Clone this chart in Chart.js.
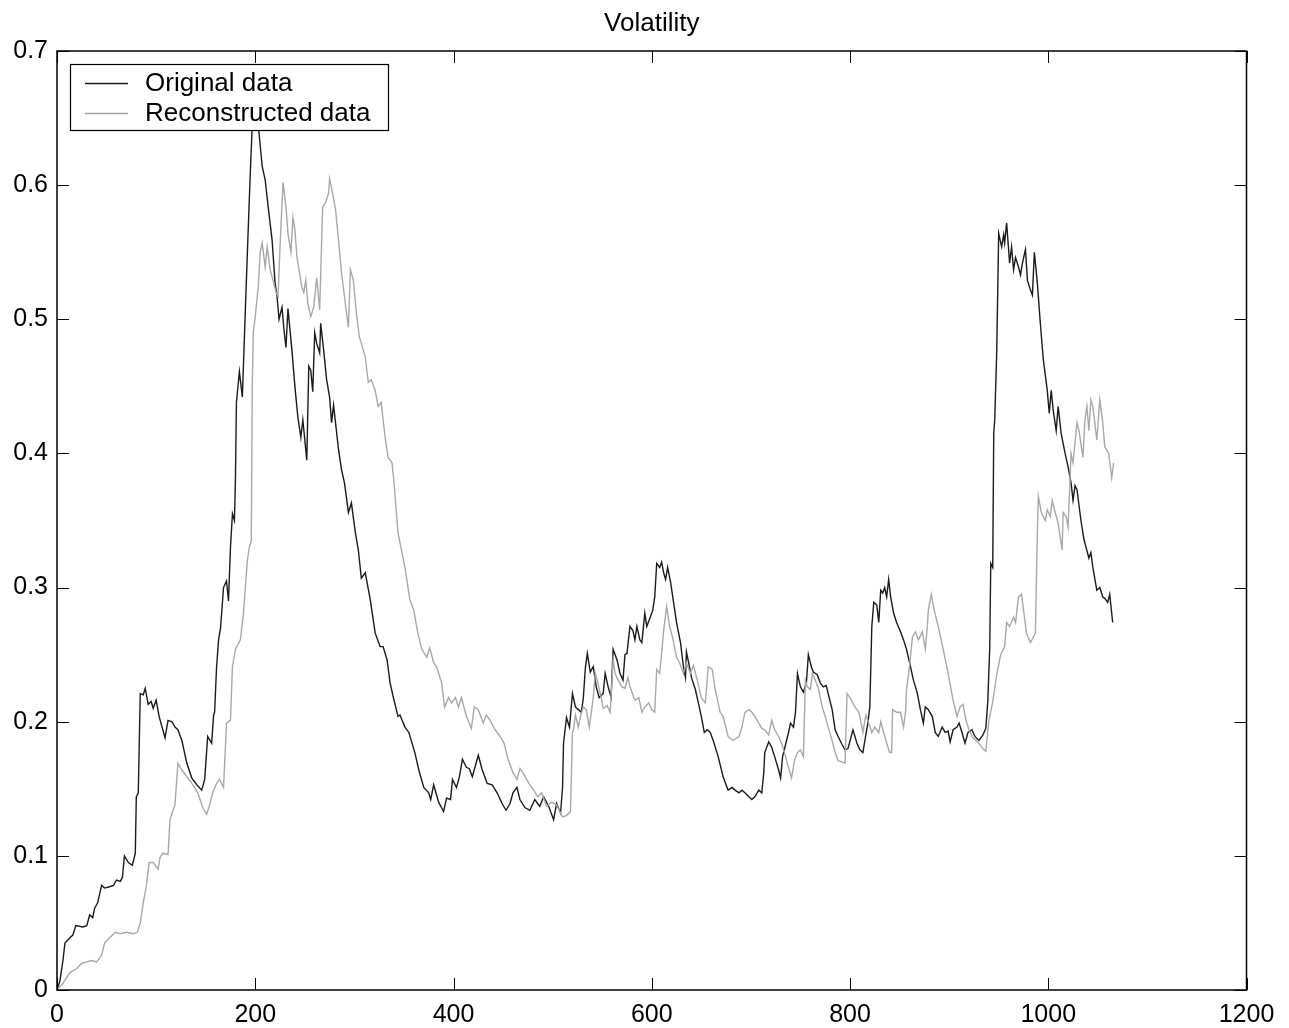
<!DOCTYPE html>
<html>
<head>
<meta charset="utf-8">
<title>Volatility</title>
<script src="https://cdn.jsdelivr.net/npm/chart.js@4.4.1/dist/chart.umd.min.js"></script>
<style>
  html, body { margin: 0; padding: 0; background: #fff; }
  #wrap { width: 1289px; height: 1028px; }
</style>
</head>
<body>
<div id="wrap"><canvas id="chart" width="1289" height="1028"></canvas></div>
<script>
// series names
const seriesNames = ['Original data', 'Reconstructed data'];

// axis ticks
const xTicks = [0, 200, 400, 600, 800, 1000, 1200];
const yTicks = [0, 0.1, 0.2, 0.3, 0.4, 0.5, 0.6, 0.7];

// Original data (sample index / value)
const origX = [0, 3, 6, 8, 13, 16, 19, 26, 30, 33, 36, 38, 41, 45, 48, 53, 57, 60, 64, 66, 68, 72, 76, 79, 80, 82, 84, 87, 89, 92, 95, 97, 100, 103, 109, 112, 116, 119, 122, 126, 131, 136, 141, 146, 149, 152, 156, 158, 159, 161, 163, 165, 168, 171, 173, 175, 177, 179, 180, 181, 184, 187, 190, 193, 195, 197, 199, 201, 203, 207, 210, 213, 217, 220, 222, 224, 227, 229, 231, 233, 237, 240, 243, 246, 248, 252, 254, 256, 258, 260, 262, 265, 266, 269, 272, 275, 277, 279, 284, 287, 290, 294, 297, 301, 304, 307, 311, 316, 321, 326, 329, 333, 336, 340, 344, 346, 351, 355, 361, 365, 370, 375, 377, 380, 385, 390, 393, 397, 399, 403, 406, 409, 413, 416, 419, 425, 429, 434, 439, 444, 449, 453, 457, 460, 464, 467, 472, 477, 482, 487, 491, 496, 501, 504, 508, 510, 511, 514, 517, 520, 523, 526, 529, 531, 533, 535, 538, 541, 544, 547, 551, 553, 556, 559, 561, 565, 568, 571, 573, 575, 578, 581, 583, 585, 588, 590, 593, 595, 598, 601, 603, 605, 608, 610, 612, 614, 616, 619, 622, 625, 629, 632, 634, 635, 638, 640, 644, 647, 650, 653, 656, 659, 662, 667, 672, 677, 681, 684, 688, 691, 694, 698, 701, 704, 708, 711, 713, 714, 718, 721, 724, 728, 730, 732, 735, 738, 740, 743, 745, 747, 750, 753, 756, 758, 761, 763, 767, 770, 773, 776, 778, 782, 785, 788, 792, 795, 798, 803, 807, 810, 813, 815, 818, 820, 822, 824, 827, 829, 831, 833, 835, 837, 839, 841, 844, 847, 851, 854, 857, 861, 864, 868, 871, 874, 876, 879, 883, 886, 889, 893, 896, 899, 901, 904, 908, 910, 913, 916, 919, 923, 926, 930, 934, 937, 939, 941, 942, 944, 945, 946, 948, 950, 953, 955, 956, 958, 961, 963, 965, 967, 970, 972, 974, 977, 979, 982, 984, 986, 989, 992, 995, 999, 1001, 1003, 1005, 1008, 1010, 1013, 1017, 1020, 1023, 1025, 1027, 1029, 1033, 1036, 1041, 1043, 1045, 1049, 1052, 1055, 1057, 1060, 1062, 1065];
const origY = [0.000, 0.007, 0.022, 0.035, 0.039, 0.041, 0.048, 0.047, 0.048, 0.056, 0.054, 0.061, 0.065, 0.078, 0.076, 0.077, 0.078, 0.082, 0.081, 0.084, 0.100, 0.095, 0.093, 0.102, 0.144, 0.147, 0.221, 0.220, 0.225, 0.213, 0.215, 0.210, 0.216, 0.204, 0.188, 0.201, 0.200, 0.196, 0.194, 0.186, 0.169, 0.158, 0.153, 0.149, 0.157, 0.189, 0.184, 0.205, 0.207, 0.241, 0.261, 0.270, 0.300, 0.305, 0.290, 0.330, 0.355, 0.350, 0.380, 0.438, 0.461, 0.442, 0.507, 0.569, 0.609, 0.645, 0.675, 0.670, 0.645, 0.614, 0.604, 0.584, 0.559, 0.527, 0.517, 0.500, 0.509, 0.492, 0.479, 0.508, 0.477, 0.450, 0.427, 0.412, 0.425, 0.395, 0.465, 0.462, 0.446, 0.490, 0.482, 0.475, 0.497, 0.477, 0.455, 0.442, 0.423, 0.436, 0.403, 0.388, 0.378, 0.356, 0.363, 0.341, 0.328, 0.307, 0.311, 0.291, 0.266, 0.256, 0.256, 0.246, 0.229, 0.216, 0.204, 0.205, 0.196, 0.192, 0.177, 0.164, 0.151, 0.147, 0.142, 0.153, 0.140, 0.133, 0.143, 0.142, 0.157, 0.151, 0.159, 0.172, 0.166, 0.165, 0.159, 0.175, 0.164, 0.154, 0.153, 0.147, 0.139, 0.134, 0.139, 0.147, 0.151, 0.142, 0.136, 0.134, 0.142, 0.137, 0.144, 0.137, 0.127, 0.139, 0.132, 0.151, 0.184, 0.203, 0.196, 0.221, 0.211, 0.209, 0.207, 0.218, 0.240, 0.251, 0.237, 0.241, 0.226, 0.218, 0.221, 0.236, 0.226, 0.218, 0.254, 0.246, 0.236, 0.231, 0.250, 0.251, 0.271, 0.268, 0.261, 0.271, 0.261, 0.259, 0.281, 0.271, 0.277, 0.283, 0.293, 0.318, 0.315, 0.319, 0.311, 0.306, 0.315, 0.304, 0.289, 0.274, 0.259, 0.241, 0.233, 0.252, 0.241, 0.233, 0.224, 0.214, 0.204, 0.192, 0.194, 0.192, 0.186, 0.174, 0.159, 0.149, 0.151, 0.149, 0.147, 0.149, 0.147, 0.144, 0.142, 0.144, 0.149, 0.147, 0.162, 0.177, 0.185, 0.181, 0.174, 0.164, 0.158, 0.174, 0.183, 0.192, 0.199, 0.196, 0.207, 0.236, 0.226, 0.222, 0.229, 0.250, 0.241, 0.237, 0.235, 0.229, 0.226, 0.227, 0.221, 0.209, 0.194, 0.189, 0.183, 0.179, 0.180, 0.194, 0.184, 0.179, 0.177, 0.186, 0.199, 0.211, 0.271, 0.289, 0.287, 0.274, 0.298, 0.296, 0.300, 0.293, 0.306, 0.293, 0.281, 0.274, 0.267, 0.261, 0.254, 0.241, 0.231, 0.221, 0.209, 0.199, 0.211, 0.209, 0.204, 0.192, 0.189, 0.196, 0.192, 0.193, 0.185, 0.194, 0.196, 0.199, 0.192, 0.184, 0.192, 0.194, 0.189, 0.186, 0.190, 0.195, 0.215, 0.256, 0.318, 0.315, 0.415, 0.425, 0.475, 0.564, 0.554, 0.563, 0.557, 0.572, 0.542, 0.554, 0.537, 0.546, 0.539, 0.533, 0.542, 0.552, 0.529, 0.522, 0.518, 0.550, 0.527, 0.497, 0.470, 0.447, 0.430, 0.447, 0.432, 0.417, 0.435, 0.415, 0.400, 0.390, 0.378, 0.365, 0.376, 0.373, 0.350, 0.336, 0.322, 0.326, 0.315, 0.298, 0.300, 0.293, 0.292, 0.289, 0.295, 0.274];

// Reconstructed data
const reconX = [0, 6, 13, 20, 25, 30, 35, 40, 45, 48, 53, 59, 64, 70, 77, 81, 84, 87, 90, 93, 97, 102, 104, 107, 112, 114, 117, 119, 122, 126, 131, 136, 142, 147, 151, 154, 157, 161, 164, 168, 171, 175, 177, 180, 185, 188, 190, 192, 194, 196, 197, 198, 200, 203, 205, 207, 210, 212, 215, 218, 221, 223, 225, 228, 231, 233, 236, 238, 240, 242, 247, 249, 251, 253, 256, 259, 262, 265, 268, 271, 274, 275, 278, 281, 284, 287, 290, 292, 294, 296, 299, 302, 305, 309, 311, 314, 317, 321, 324, 327, 331, 334, 338, 340, 344, 351, 356, 360, 364, 368, 373, 376, 380, 383, 388, 391, 395, 398, 402, 405, 408, 413, 418, 421, 425, 430, 433, 437, 442, 447, 451, 455, 460, 464, 467, 470, 476, 481, 485, 489, 494, 499, 504, 510, 514, 518, 520, 521, 523, 526, 528, 531, 534, 537, 539, 541, 543, 545, 549, 551, 555, 558, 561, 563, 566, 570, 573, 576, 578, 583, 587, 590, 593, 597, 600, 603, 605, 608, 610, 612, 615, 618, 621, 625, 628, 632, 635, 639, 642, 646, 650, 654, 657, 661, 664, 669, 672, 677, 682, 688, 691, 694, 698, 701, 704, 708, 711, 714, 718, 721, 724, 728, 731, 735, 738, 741, 744, 747, 750, 753, 755, 757, 760, 762, 765, 768, 772, 775, 778, 782, 785, 788, 792, 795, 797, 800, 805, 809, 812, 813, 816, 819, 822, 825, 829, 831, 834, 837, 840, 842, 843, 847, 851, 854, 856, 857, 860, 863, 866, 869, 873, 876, 878, 879, 882, 885, 889, 894, 899, 904, 908, 911, 914, 917, 920, 924, 930, 934, 937, 940, 944, 948, 952, 956, 958, 961, 965, 967, 970, 973, 976, 978, 982, 985, 987, 989, 990, 993, 997, 999, 1002, 1004, 1007, 1010, 1012, 1014, 1015, 1018, 1020, 1023, 1025, 1027, 1029, 1031, 1035, 1037, 1039, 1041, 1043, 1045, 1049, 1052, 1055, 1057, 1061, 1064, 1066];
const reconY = [0, 0.005, 0.013, 0.016, 0.020, 0.021, 0.022, 0.021, 0.026, 0.035, 0.039, 0.043, 0.042, 0.043, 0.042, 0.043, 0.050, 0.065, 0.077, 0.095, 0.095, 0.090, 0.099, 0.102, 0.101, 0.127, 0.134, 0.138, 0.169, 0.164, 0.159, 0.154, 0.147, 0.136, 0.131, 0.138, 0.147, 0.154, 0.157, 0.151, 0.199, 0.201, 0.241, 0.254, 0.261, 0.280, 0.300, 0.320, 0.330, 0.335, 0.450, 0.490, 0.502, 0.524, 0.550, 0.557, 0.539, 0.554, 0.537, 0.529, 0.520, 0.517, 0.554, 0.602, 0.584, 0.564, 0.550, 0.576, 0.567, 0.547, 0.524, 0.520, 0.529, 0.512, 0.502, 0.509, 0.531, 0.507, 0.584, 0.587, 0.594, 0.605, 0.594, 0.582, 0.559, 0.535, 0.517, 0.505, 0.494, 0.537, 0.529, 0.505, 0.487, 0.477, 0.472, 0.453, 0.455, 0.447, 0.435, 0.438, 0.412, 0.397, 0.393, 0.378, 0.341, 0.315, 0.291, 0.283, 0.266, 0.254, 0.248, 0.255, 0.244, 0.241, 0.229, 0.211, 0.218, 0.214, 0.218, 0.211, 0.218, 0.204, 0.195, 0.211, 0.209, 0.199, 0.205, 0.201, 0.194, 0.189, 0.184, 0.172, 0.162, 0.157, 0.165, 0.162, 0.154, 0.149, 0.144, 0.147, 0.137, 0.140, 0.138, 0.129, 0.130, 0.133, 0.192, 0.194, 0.205, 0.196, 0.204, 0.211, 0.209, 0.196, 0.207, 0.218, 0.236, 0.231, 0.218, 0.210, 0.212, 0.207, 0.246, 0.236, 0.231, 0.226, 0.225, 0.233, 0.226, 0.216, 0.218, 0.207, 0.211, 0.214, 0.209, 0.207, 0.239, 0.236, 0.251, 0.268, 0.286, 0.271, 0.263, 0.248, 0.244, 0.236, 0.244, 0.236, 0.242, 0.231, 0.218, 0.214, 0.241, 0.239, 0.224, 0.207, 0.204, 0.189, 0.186, 0.189, 0.196, 0.207, 0.209, 0.207, 0.204, 0.199, 0.195, 0.194, 0.190, 0.201, 0.194, 0.189, 0.184, 0.174, 0.166, 0.158, 0.171, 0.177, 0.179, 0.174, 0.231, 0.226, 0.224, 0.236, 0.231, 0.225, 0.211, 0.204, 0.196, 0.186, 0.177, 0.171, 0.170, 0.169, 0.221, 0.218, 0.211, 0.207, 0.196, 0.192, 0.205, 0.199, 0.192, 0.196, 0.192, 0.200, 0.192, 0.184, 0.177, 0.177, 0.209, 0.207, 0.207, 0.196, 0.207, 0.224, 0.241, 0.263, 0.267, 0.261, 0.267, 0.254, 0.271, 0.283, 0.295, 0.283, 0.271, 0.254, 0.236, 0.216, 0.204, 0.211, 0.213, 0.201, 0.194, 0.188, 0.184, 0.180, 0.178, 0.200, 0.215, 0.235, 0.250, 0.256, 0.274, 0.271, 0.278, 0.274, 0.293, 0.295, 0.278, 0.266, 0.259, 0.263, 0.266, 0.341, 0.368, 0.356, 0.350, 0.358, 0.353, 0.365, 0.356, 0.348, 0.338, 0.328, 0.356, 0.353, 0.345, 0.400, 0.393, 0.408, 0.423, 0.417, 0.397, 0.425, 0.435, 0.417, 0.440, 0.435, 0.410, 0.440, 0.423, 0.405, 0.400, 0.382, 0.393];

const FONT = '"Liberation Sans", Arial, Helvetica, sans-serif';
const lineColors = ['#1a1a1a', '#a8a8a8'];

function toPoints(xs, ys) {
    return xs.map(function (x, i) { return { x: x, y: ys[i] }; });
}

// frame, inward ticks, title and legend, MATLAB style
const matlabDecor = {
    id: 'matlabDecor',
    afterDraw: function (chart) {
        const ctx = chart.ctx;
        const a = chart.chartArea;
        const xs = chart.scales.x;
        const ys = chart.scales.y;
        const tl = 12;
        ctx.save();
        ctx.strokeStyle = '#000';
        ctx.lineWidth = 1;
        ctx.beginPath();
        yTicks.forEach(function (v) {
            const p = Math.round(ys.getPixelForValue(v)) + 0.5;
            ctx.moveTo(a.left, p); ctx.lineTo(a.left + tl, p);
            ctx.moveTo(a.right, p); ctx.lineTo(a.right - tl, p);
        });
        xTicks.forEach(function (v) {
            const p = Math.round(xs.getPixelForValue(v)) + 0.5;
            ctx.moveTo(p, a.bottom); ctx.lineTo(p, a.bottom - tl);
            ctx.moveTo(p, a.top); ctx.lineTo(p, a.top + tl);
        });
        ctx.stroke();
        ctx.lineWidth = 1.5;
        ctx.strokeRect(a.left, a.top, a.right - a.left, a.bottom - a.top);

        // title
        ctx.fillStyle = '#000';
        ctx.font = '26px ' + FONT;
        ctx.textAlign = 'center';
        ctx.textBaseline = 'alphabetic';
        ctx.fillText('Volatility', (a.left + a.right) / 2, 31);

        // legend
        const bx = 70, by = 64, bw = 318, bh = 66;
        ctx.fillStyle = '#fff';
        ctx.fillRect(bx, by, bw, bh);
        ctx.lineWidth = 1.2;
        ctx.strokeStyle = '#000';
        ctx.strokeRect(bx + 0.5, by + 0.5, bw, bh);
        const rows = [83, 113];
        ctx.font = '26px ' + FONT;
        ctx.textAlign = 'left';
        ctx.textBaseline = 'middle';
        seriesNames.forEach(function (name, i) {
            ctx.strokeStyle = lineColors[i];
            ctx.lineWidth = 1.3;
            ctx.beginPath();
            ctx.moveTo(85, rows[i] + 0.5);
            ctx.lineTo(128, rows[i] + 0.5);
            ctx.stroke();
            ctx.fillStyle = '#000';
            ctx.fillText(name, 145, rows[i] + 1);
        });
        ctx.restore();
    }
};

const chart = new Chart(document.getElementById('chart'), {
    type: 'line',
    data: {
        datasets: [{
            label: seriesNames[0],
            data: toPoints(origX, origY),
            borderColor: lineColors[0],
            borderWidth: 1.4,
            pointRadius: 0,
            tension: 0,
            fill: false,
            order: 1
        }, {
            label: seriesNames[1],
            data: toPoints(reconX, reconY),
            borderColor: lineColors[1],
            borderWidth: 1.4,
            pointRadius: 0,
            tension: 0,
            fill: false,
            order: 0
        }]
    },
    options: {
        responsive: false,
        animation: false,
        events: [],
        layout: { padding: { left: 0, right: 42.5, top: 51, bottom: 0 } },
        plugins: {
            legend: { display: false },
            title: { display: false },
            tooltip: { enabled: false }
        },
        scales: {
            x: {
                type: 'linear',
                min: 0,
                max: 1200,
                afterFit: function (scale) { scale.height = 38; },
                afterBuildTicks: function (scale) {
                    scale.ticks = xTicks.map(function (v) { return { value: v }; });
                },
                grid: { display: false, drawTicks: false },
                border: { display: false },
                ticks: {
                    padding: 10,
                    color: '#000',
                    font: { family: FONT, size: 25 },
                    maxRotation: 0,
                    callback: function (v) { return String(v); }
                }
            },
            y: {
                type: 'linear',
                min: 0,
                max: 0.7,
                afterFit: function (scale) { scale.width = 57; },
                afterBuildTicks: function (scale) {
                    scale.ticks = yTicks.map(function (v) { return { value: v }; });
                },
                grid: { display: false, drawTicks: false },
                border: { display: false },
                ticks: {
                    padding: 9,
                    color: '#000',
                    font: { family: FONT, size: 25 },
                    callback: function (v) { return String(v); }
                }
            }
        }
    },
    plugins: [matlabDecor]
});
</script>
</body>
</html>
